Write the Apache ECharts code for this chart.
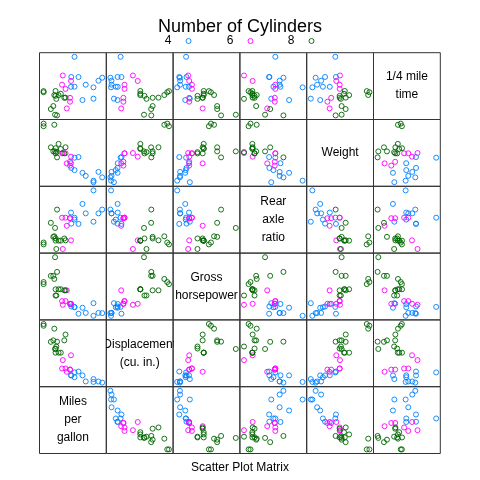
<!DOCTYPE html>
<html>
<head>
<meta charset="utf-8">
<script src="https://cdn.jsdelivr.net/npm/echarts@6/dist/echarts.min.js"></script>
<style>
    html, body { margin: 0; padding: 0; background: #fff; }
    #chart { width: 480px; height: 480px; }
</style>
</head>
<body>
<div id="chart"></div>
<script>
'use strict';

// mtcars columns used in the matrix
const cyl = [6, 6, 4, 6, 8, 6, 8, 4, 4, 6, 6, 8, 8, 8, 8, 8, 8, 4, 4, 4, 4, 8, 8, 8, 8, 4, 4, 4, 8, 6, 8, 4];
const mpg = [21.0, 21.0, 22.8, 21.4, 18.7, 18.1, 14.3, 24.4, 22.8, 19.2, 17.8, 16.4, 17.3, 15.2, 10.4, 10.4,
    14.7, 32.4, 30.4, 33.9, 21.5, 15.5, 15.2, 13.3, 19.2, 27.3, 26.0, 30.4, 15.8, 19.7, 15.0, 21.4];
const disp = [160.0, 160.0, 108.0, 258.0, 360.0, 225.0, 360.0, 146.7, 140.8, 167.6, 167.6, 275.8, 275.8, 275.8,
    472.0, 460.0, 440.0, 78.7, 75.7, 71.1, 120.1, 318.0, 304.0, 350.0, 400.0, 79.0, 120.3, 95.1, 351.0, 145.0,
    301.0, 121.0];
const hp = [110, 110, 93, 110, 175, 105, 245, 62, 95, 123, 123, 180, 180, 180, 205, 215, 230, 66, 52, 65, 97,
    150, 150, 245, 175, 66, 91, 113, 264, 175, 335, 109];
const drat = [3.90, 3.90, 3.85, 3.08, 3.15, 2.76, 3.21, 3.69, 3.92, 3.92, 3.92, 3.07, 3.07, 3.07, 2.93, 3.00,
    3.23, 4.08, 4.93, 4.22, 3.70, 2.76, 3.15, 3.73, 3.08, 4.08, 4.43, 3.77, 4.22, 3.62, 3.54, 4.11];
const wt = [2.620, 2.875, 2.320, 3.215, 3.440, 3.460, 3.570, 3.190, 3.150, 3.440, 3.440, 4.070, 3.730, 3.780,
    5.250, 5.424, 5.345, 2.200, 1.615, 1.835, 2.465, 3.520, 3.435, 3.840, 3.845, 1.935, 2.140, 1.513, 3.170,
    2.770, 3.570, 2.780];
const qsec = [16.46, 17.02, 18.61, 19.44, 17.02, 20.22, 15.84, 20.00, 22.90, 18.30, 18.90, 17.40, 17.60, 18.00,
    17.98, 17.82, 17.42, 19.47, 18.52, 19.90, 20.01, 16.87, 17.30, 15.41, 17.05, 18.90, 16.70, 16.90, 14.50,
    15.50, 14.60, 18.60];

const variables = [mpg, disp, hp, drat, wt, qsec];
const varLabels = ["Miles\nper\ngallon", "Displacement\n(cu. in.)", "Gross\nhorsepower", "Rear\naxle\nratio",
    "Weight", "1/4 mile\ntime"];
const groups = [4, 6, 8];
const groupColors = ["#0080ff", "#ff00ff", "#006400"];

const FONT = "Liberation Sans";
const left0 = 39.5, top0 = 52.7, cell = 66.8;
const n = variables.length;

function limits(arr) {
    const lo = Math.min(...arr), hi = Math.max(...arr);
    const pad = (hi - lo) * 0.07;
    return [lo - pad, hi + pad];
}

const grid = [], xAxis = [], yAxis = [], series = [];

for (let r = 0; r < n; r++) {
    for (let c = 0; c < n; c++) {
        const k = grid.length;
        const yv = n - 1 - r;
        const diag = c === yv;
        grid.push({
            left: left0 + c * cell,
            top: top0 + r * cell,
            width: cell,
            height: cell,
            show: true,
            borderColor: "#333",
            borderWidth: 1,
            backgroundColor: "transparent"
        });
        const xl = diag ? [-1, 1] : limits(variables[c]);
        const yl = diag ? [-1, 1] : limits(variables[yv]);
        xAxis.push({ gridIndex: k, type: "value", min: xl[0], max: xl[1], show: false });
        yAxis.push({ gridIndex: k, type: "value", min: yl[0], max: yl[1], show: false });

        if (diag) {
            const label = varLabels[c];
            series.push({
                type: "custom",
                xAxisIndex: k,
                yAxisIndex: k,
                clip: true,
                silent: true,
                data: [[0, 0]],
                renderItem: (params, api) => {
                    const p = api.coord([api.value(0), api.value(1)]);
                    return {
                        type: "text",
                        x: p[0],
                        y: p[1],
                        style: {
                            text: label,
                            fill: "#000",
                            font: "12px '" + FONT + "'",
                            align: "center",
                            verticalAlign: "middle",
                            lineHeight: 18
                        }
                    };
                }
            });
            continue;
        }

        groups.forEach((g, gi) => {
            const data = [];
            cyl.forEach((v, i) => {
                if (v === g) data.push([variables[c][i], variables[yv][i]]);
            });
            series.push({
                type: "scatter",
                name: String(g),
                xAxisIndex: k,
                yAxisIndex: k,
                symbol: "circle",
                symbolSize: 5,
                silent: true,
                animation: false,
                itemStyle: { color: "transparent", borderColor: groupColors[gi], borderWidth: 0.9, opacity: 1 },
                data: data
            });
        });
    }
}

// key above the panels: label then symbol
const keyX = [168, 230, 291];
const keyGraphics = [];
groups.forEach((g, gi) => {
    keyGraphics.push({
        type: "text",
        x: keyX[gi],
        y: 41,
        style: {
            text: String(g),
            fill: "#000",
            font: "12px '" + FONT + "'",
            align: "center",
            verticalAlign: "middle"
        }
    });
    keyGraphics.push({
        type: "circle",
        shape: { cx: keyX[gi] + 20.5, cy: 41, r: 2.5 },
        style: { fill: "none", stroke: groupColors[gi], lineWidth: 0.9 }
    });
});

const myChart = echarts.init(document.getElementById("chart"), null, { renderer: "canvas" });
myChart.setOption({
    animation: false,
    backgroundColor: "#fff",
    title: [{
        text: "Number of Cylinders",
        left: "center",
        top: 13,
        textStyle: { fontFamily: FONT, fontSize: 18, fontWeight: "normal", color: "#000" }
    }, {
        text: "Scatter Plot Matrix",
        left: "center",
        top: 457,
        textStyle: { fontFamily: FONT, fontSize: 12, fontWeight: "normal", color: "#000" }
    }],
    graphic: keyGraphics,
    grid: grid,
    xAxis: xAxis,
    yAxis: yAxis,
    series: series
});
</script>
</body>
</html>
